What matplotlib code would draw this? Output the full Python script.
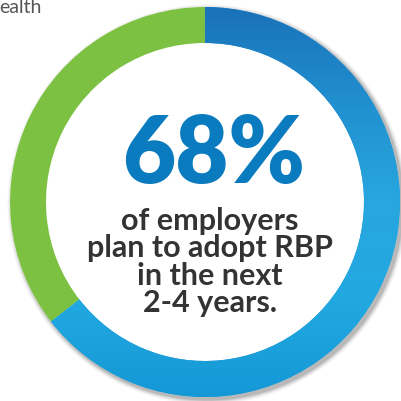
import numpy as np
import matplotlib
matplotlib.use("Agg")
import matplotlib.pyplot as plt
from matplotlib.colors import LinearSegmentedColormap

# Data
shares = [64.5, 35.5]           # blue (adopt) vs green, as drawn on the ring
ring_colors = ["#1f8fd2", "#7cc142"]
headline = "68%"
caption_lines = ["of employers", "plan to adopt RBP", "in the next", "2-4 years."]
corner_text = "ealth"

plt.rcParams['font.family'] = ['Lato', 'DejaVu Sans']

W, H = 401, 402
fig = plt.figure(figsize=(W / 100, H / 100), dpi=100)
ax = fig.add_axes([0, 0, 1, 1])

cx, cy = 205, H - 203
r_out, ring_w = 195, 36

# soft drop shadow behind the ring
for i, a in enumerate([0.10, 0.08, 0.06, 0.04, 0.03]):
    ax.add_patch(plt.Circle((cx + 2.5, cy - 2.5), r_out + 1 + i, color="#000000",
                            alpha=a, lw=0, zorder=0))
ax.add_patch(plt.Circle((cx, cy), r_out, color="white", lw=0, zorder=0.5))

wedges, _ = ax.pie(shares, colors=ring_colors, startangle=90, counterclock=False,
                   center=(cx, cy), radius=r_out,
                   wedgeprops=dict(width=ring_w, linewidth=0), normalize=True)
for w in wedges:
    w.set_zorder(1)

# vertical blue gradient (dark at top, light lower down) clipped to the blue wedge
blue_cmap = LinearSegmentedColormap.from_list(
    "blues", ["#1a72b9", "#2190d0", "#28a6df", "#22a9e1", "#1598d6"])
grad = np.linspace(0, 1, 256).reshape(-1, 1)
img = ax.imshow(grad, cmap=blue_cmap, aspect="auto", zorder=2, origin="upper",
                extent=(cx - r_out, cx + r_out, cy - r_out, cy + r_out))
img.set_clip_path(wedges[0])

ax.text(cx + 9, H - 156, headline, ha="center", va="center", fontsize=66,
        fontweight="heavy", color="#0a7bbf", zorder=3)

y0 = H - 221
for i, line in enumerate(caption_lines):
    ax.text(cx + 5, y0 - i * 27.5, line, ha="center", va="center", fontsize=22,
            fontweight="bold", color="#333333", zorder=3)

ax.text(-1, H - 13, corner_text, ha="left", va="baseline", fontsize=14,
        color="#555555", zorder=3)

ax.set_xlim(0, W)
ax.set_ylim(0, H)
ax.set_aspect("equal")
ax.axis("off")

fig.savefig("out.png", dpi=100, facecolor="white")
